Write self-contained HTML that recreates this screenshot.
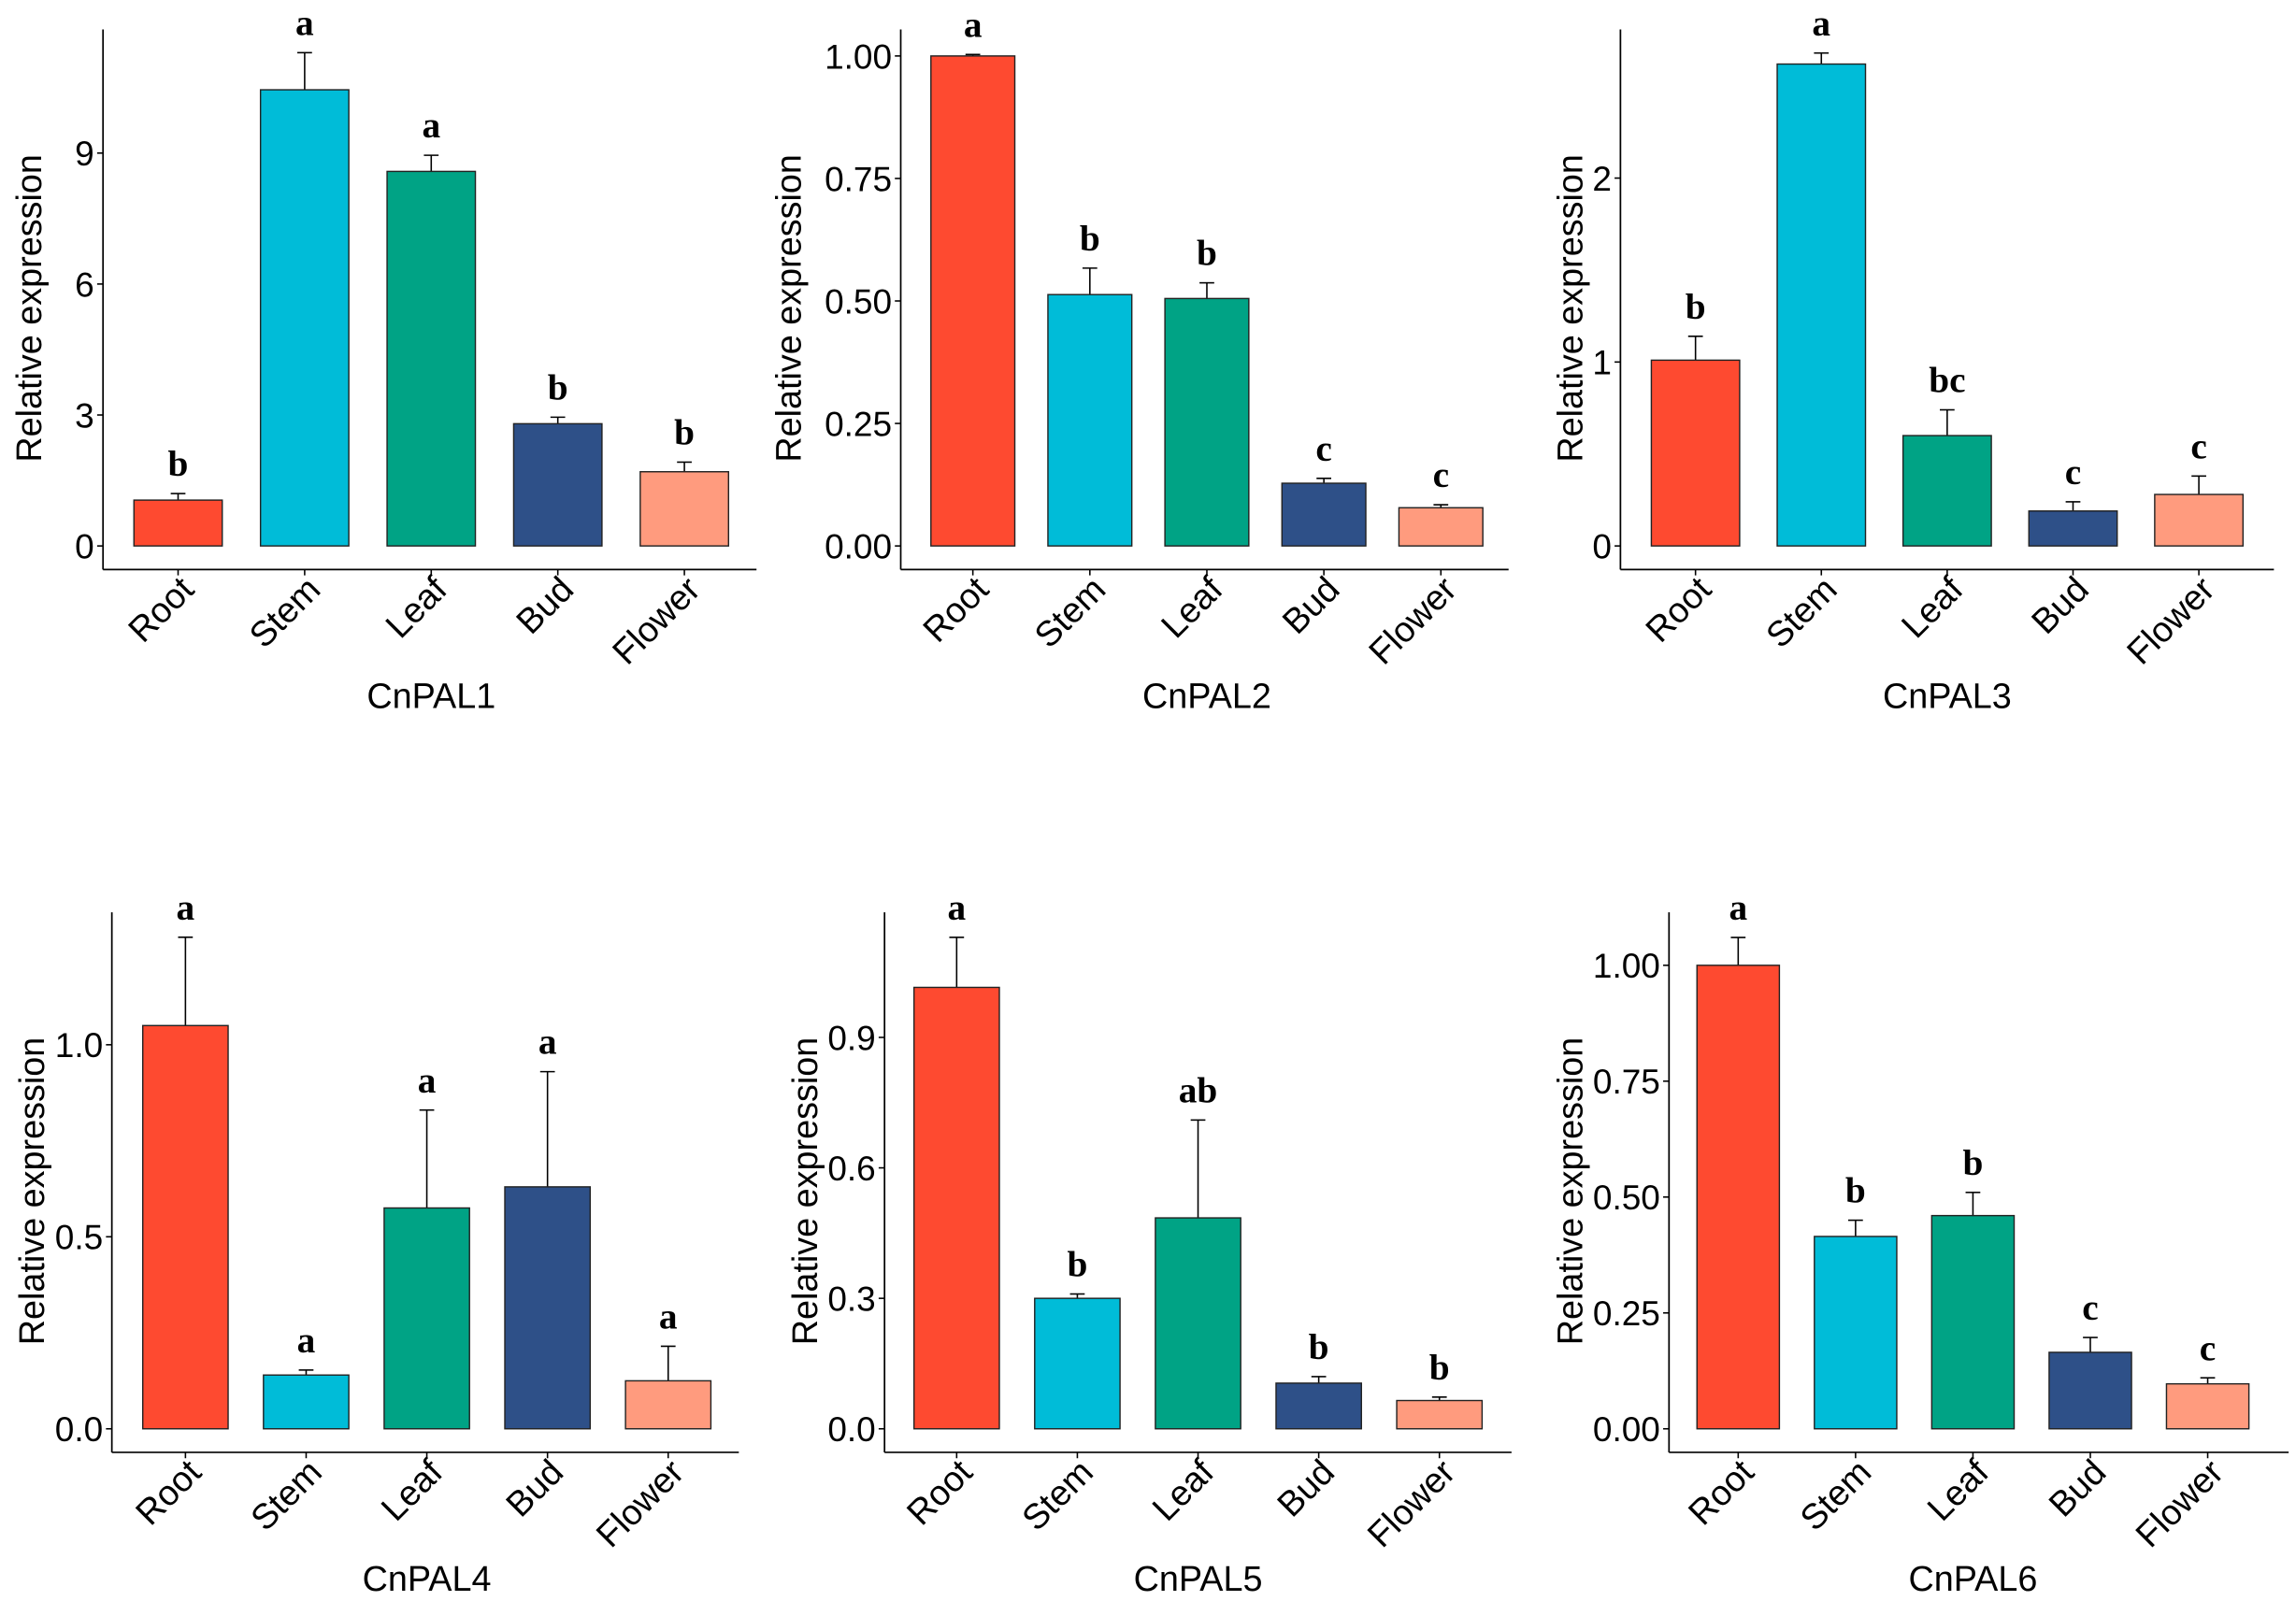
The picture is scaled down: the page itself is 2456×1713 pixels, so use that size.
<!DOCTYPE html>
<html><head><meta charset="utf-8">
<style>
html,body{margin:0;padding:0;background:#fff;}
svg{display:block;}
text{font-family:"Liberation Sans",Arial,sans-serif;fill:#000;}
.sig{font-family:"Liberation Serif","DejaVu Serif",serif;font-weight:bold;}
</style></head>
<body>
<svg id="fig" width="2456" height="1713" viewBox="0 0 1560 1088" xmlns="http://www.w3.org/2000/svg"></svg>
<script>
const categories = ["Root","Stem","Leaf","Bud","Flower"];
const colors = ["#FE4A30","#00BCD8","#00A385","#2E5088","#FF9B7E"];
const titles = ["CnPAL1","CnPAL2","CnPAL3","CnPAL4","CnPAL5","CnPAL6"];
const pal1Values = [1.05, 10.45, 8.58, 2.8, 1.7];
const pal1ErrTop = [1.2, 11.3, 8.95, 2.95, 1.92];
const pal1Letters = ["b","a","a","b","b"];
const pal1Ticks = [0,3,6,9];
const pal1TickLabels = ["0","3","6","9"];
const pal2Values = [1.0, 0.513, 0.505, 0.128, 0.078];
const pal2ErrTop = [1.003, 0.567, 0.537, 0.138, 0.084];
const pal2Letters = ["a","b","b","c","c"];
const pal2Ticks = [0,0.25,0.5,0.75,1.0];
const pal2TickLabels = ["0.00","0.25","0.50","0.75","1.00"];
const pal3Values = [1.01, 2.62, 0.6, 0.19, 0.28];
const pal3ErrTop = [1.14, 2.68, 0.74, 0.24, 0.38];
const pal3Letters = ["b","a","bc","c","c"];
const pal3Ticks = [0,1,2];
const pal3TickLabels = ["0","1","2"];
const pal4Values = [1.05, 0.14, 0.575, 0.63, 0.125];
const pal4ErrTop = [1.28, 0.153, 0.83, 0.93, 0.215];
const pal4Letters = ["a","a","a","a","a"];
const pal4Ticks = [0,0.5,1.0];
const pal4TickLabels = ["0.0","0.5","1.0"];
const pal5Values = [1.015, 0.30, 0.485, 0.105, 0.065];
const pal5ErrTop = [1.13, 0.31, 0.71, 0.12, 0.073];
const pal5Letters = ["a","b","ab","b","b"];
const pal5Ticks = [0,0.3,0.6,0.9];
const pal5TickLabels = ["0.0","0.3","0.6","0.9"];
const pal6Values = [1.0, 0.415, 0.46, 0.165, 0.097];
const pal6ErrTop = [1.06, 0.45, 0.51, 0.197, 0.11];
const pal6Letters = ["a","b","b","c","c"];
const pal6Ticks = [0,0.25,0.5,0.75,1.0];
const pal6TickLabels = ["0.00","0.25","0.50","0.75","1.00"];

const panelValues = [pal1Values,pal2Values,pal3Values,pal4Values,pal5Values,pal6Values];
const panelErr = [pal1ErrTop,pal2ErrTop,pal3ErrTop,pal4ErrTop,pal5ErrTop,pal6ErrTop];
const panelLetters = [pal1Letters,pal2Letters,pal3Letters,pal4Letters,pal5Letters,pal6Letters];
const panelTicks = [pal1Ticks,pal2Ticks,pal3Ticks,pal4Ticks,pal5Ticks,pal6Ticks];
const panelTickLabels = [pal1TickLabels,pal2TickLabels,pal3TickLabels,pal4TickLabels,pal5TickLabels,pal6TickLabels];

const layouts = [
 {ax:70, right:514, top:20, zero:371, axisY:387, refV:9, refY:104, c0:121, step:86, bw:60, ylab:20},
 {ax:612, right:1025, top:20, zero:371, axisY:387, refV:1, refY:38, c0:661, step:79.5, bw:57, ylab:536},
 {ax:1101, right:1545, top:20, zero:371, axisY:387, refV:2, refY:121, c0:1152, step:85.5, bw:60, ylab:1067},
 {ax:76, right:502, top:620, zero:971, axisY:987, refV:1, refY:710, c0:126, step:82, bw:58, ylab:22},
 {ax:601, right:1027, top:620, zero:971, axisY:987, refV:0.9, refY:705, c0:650, step:82, bw:58, ylab:547},
 {ax:1134, right:1555, top:620, zero:971, axisY:987, refV:1, refY:656, c0:1181, step:79.75, bw:56, ylab:1067}
];
const NS="http://www.w3.org/2000/svg";
const svg=document.getElementById('fig');
function mk(tag, parent){const e=document.createElementNS(NS,tag);parent.appendChild(e);return e;}

layouts.forEach((L,p)=>{
  const g=mk('g',svg);
  
  
  const yScale=v=>L.zero-(v/L.refV)*(L.zero-L.refY);
  const xScale=i=>L.c0+i*L.step;
  const ya=mk('line',g);ya.setAttribute('x1',L.ax);ya.setAttribute('x2',L.ax);ya.setAttribute('y1',L.top);ya.setAttribute('y2',L.axisY);ya.setAttribute('stroke','#000');ya.setAttribute('stroke-width','1.1');
  
  
  const xa=mk('line',g);xa.setAttribute('x1',L.ax);xa.setAttribute('x2',L.right);xa.setAttribute('y1',L.axisY);xa.setAttribute('y2',L.axisY);xa.setAttribute('stroke','#000');xa.setAttribute('stroke-width','1.1');
  
  
  panelTicks[p].forEach((t,k)=>{
    const y=yScale(t);
    const tl=mk('line',g);tl.setAttribute('x1',L.ax-4);tl.setAttribute('x2',L.ax);tl.setAttribute('y1',y);tl.setAttribute('y2',y);tl.setAttribute('stroke','#000');
    
    
    const tx=mk('text',g);tx.setAttribute('x',L.ax-6);tx.setAttribute('y',y+8.5);tx.setAttribute('text-anchor','end');tx.setAttribute('font-size','23.5');
    tx.textContent=panelTickLabels[p][k];
    
    
  });
  const midY=(L.top+L.axisY)/2+6;
  const yl=mk('text',g);yl.setAttribute('transform','translate('+(L.ylab+8)+','+midY+') rotate(-90)');yl.setAttribute('text-anchor','middle');yl.setAttribute('font-size','24');
  yl.textContent='Relative expression';
  
  
  categories.forEach((c,i)=>{
    const cx=xScale(i), v=panelValues[p][i], e=panelErr[p][i];
    const yTop=yScale(v), yErr=yScale(e);
    const el=mk('line',g);el.setAttribute('x1',cx);el.setAttribute('x2',cx);el.setAttribute('y1',yErr);el.setAttribute('y2',yTop);el.setAttribute('stroke','#000');el.setAttribute('stroke-width','1');
    
    
    const ec=mk('line',g);ec.setAttribute('x1',cx-5);ec.setAttribute('x2',cx+5);ec.setAttribute('y1',yErr);ec.setAttribute('y2',yErr);ec.setAttribute('stroke','#000');ec.setAttribute('stroke-width','1');
    
    
    const r=mk('rect',g);r.setAttribute('x',cx-L.bw/2);r.setAttribute('width',L.bw);r.setAttribute('y',yTop);r.setAttribute('height',L.zero-yTop);r.setAttribute('fill',colors[i]);r.setAttribute('stroke','#222');r.setAttribute('stroke-width','0.9');
    
    
    const tk=mk('line',g);tk.setAttribute('x1',cx);tk.setAttribute('x2',cx);tk.setAttribute('y1',L.axisY);tk.setAttribute('y2',L.axisY+4);tk.setAttribute('stroke','#000');
    
    
    const lt=mk('text',g);lt.setAttribute('class','sig');lt.setAttribute('x',cx);lt.setAttribute('y',yErr-12);lt.setAttribute('text-anchor','middle');lt.setAttribute('font-size','25');
    lt.textContent=panelLetters[p][i];
    
    
    const cl=mk('text',g);cl.setAttribute('transform','translate('+(cx+12)+','+(L.axisY+15)+') rotate(-45)');cl.setAttribute('text-anchor','end');cl.setAttribute('font-size','24');
    cl.textContent=c;
    
    
  });
  const tt=mk('text',g);tt.setAttribute('x',(L.c0+L.c0+4*L.step)/2);tt.setAttribute('y',L.axisY+94);tt.setAttribute('text-anchor','middle');tt.setAttribute('font-size','24');
  tt.textContent=titles[p];
  
  
});
</script>
</body></html>
